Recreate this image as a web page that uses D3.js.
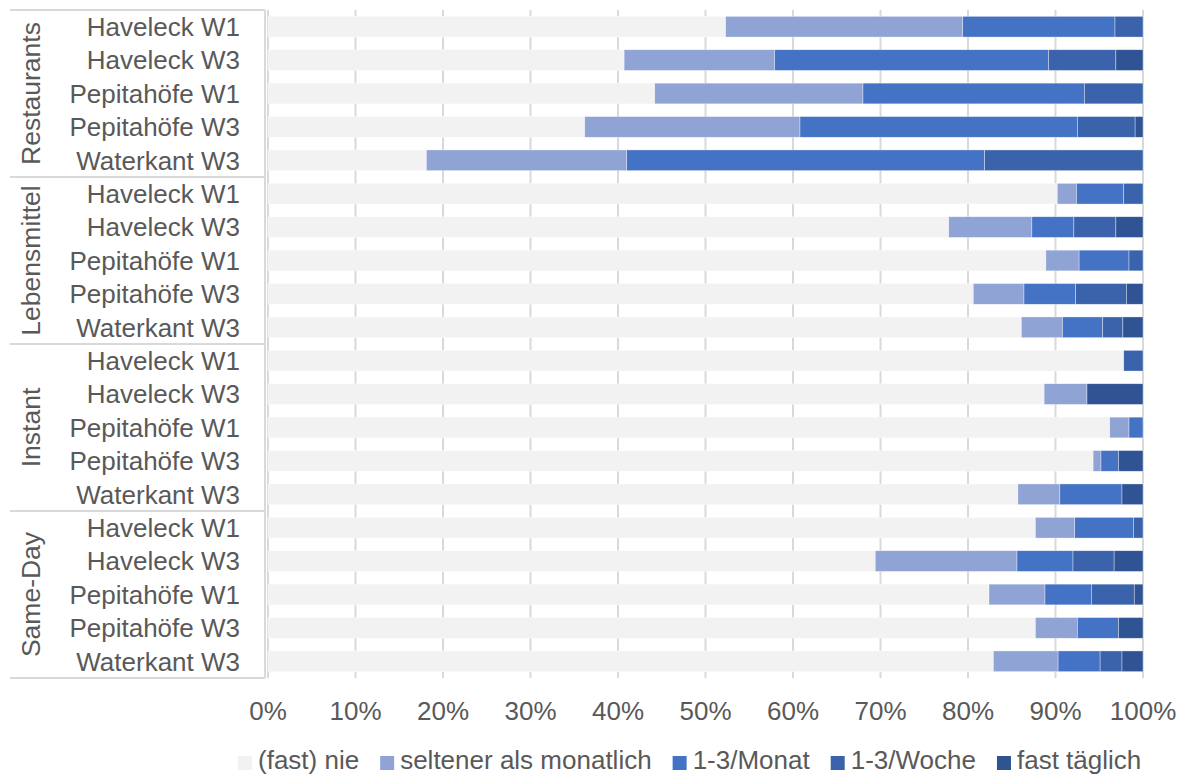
<!DOCTYPE html>
<html>
<head>
<meta charset="utf-8">
<script src="https://cdn.jsdelivr.net/npm/d3@7"></script>
<style>
  body { margin: 0; background: #fff; }
  text { font-family: "Liberation Sans", Arial, sans-serif; fill: #595959; }
</style>
</head>
<body>
<svg id="chart" width="1184" height="776"></svg>
<script>
// data (percent)
var categories = ["Haveleck W1", "Haveleck W3", "Pepitahöfe W1", "Pepitahöfe W3", "Waterkant W3"];
var groups = ["Restaurants", "Lebensmittel", "Instant", "Same-Day"];
var seriesNames = ["(fast) nie", "seltener als monatlich", "1-3/Monat", "1-3/Woche", "fast täglich"];
var colors = ["#f2f2f2", "#8fa3d4", "#4472c4", "#3a63ab", "#305393"];

var nie       = [52.3, 40.7, 44.2, 36.2, 18.1,  90.2, 77.8, 88.9, 80.6, 86.1,  97.8, 88.7, 96.2, 94.3, 85.7,  87.7, 69.4, 82.4, 87.7, 82.9];
var seltener  = [27.1, 17.2, 23.8, 24.6, 22.9,   2.2,  9.5,  3.8,  5.8,  4.7,   0.0,  4.9,  2.2,  0.9,  4.8,   4.5, 16.2,  6.4,  4.8,  7.4];
var monat     = [17.4, 31.3, 25.3, 31.7, 40.9,   5.4,  4.8,  5.7,  5.9,  4.6,   0.0,  0.0,  1.6,  2.0,  7.1,   6.7,  6.4,  5.3,  4.7,  4.8];
var woche     = [ 3.2,  7.7,  6.7,  6.6, 18.1,   2.2,  4.8,  1.6,  5.8,  2.3,   2.2,  0.0,  0.0,  0.0,  0.0,   1.1,  4.7,  4.9,  0.0,  2.5];
var taeglich  = [ 0.0,  3.1,  0.0,  0.9,  0.0,   0.0,  3.1,  0.0,  1.9,  2.3,   0.0,  6.4,  0.0,  2.8,  2.4,   0.0,  3.3,  1.0,  2.8,  2.4];
var tickLabels = ["0%", "10%", "20%", "30%", "40%", "50%", "60%", "70%", "80%", "90%", "100%"];

var rows = [];
groups.forEach(function(g, gi) {
  categories.forEach(function(c, ci) {
    var i = gi * categories.length + ci;
    rows.push({id: i, group: g, label: c,
      nie: nie[i], seltener: seltener[i], monat: monat[i], woche: woche[i], taeglich: taeglich[i]});
  });
});
var keys = ["nie", "seltener", "monat", "woche", "taeglich"];

var svg = d3.select("#chart");
var plotLeft = 268, plotRight = 1143, plotTop = 10, plotBottom = 678;

var x = d3.scaleLinear().domain([0, 100]).range([plotLeft, plotRight]);
var y = d3.scaleBand().domain(rows.map(function(d) { return d.id; }))
  .range([plotTop, plotBottom]).paddingInner(0.38).paddingOuter(0.19);

// gridlines
svg.append("g").selectAll("line")
  .data(d3.range(0, 101, 10))
  .enter().append("line")
    .attr("x1", function(d) { return x(d); })
    .attr("x2", function(d) { return x(d); })
    .attr("y1", plotTop).attr("y2", plotBottom)
    .style("stroke", "#d9d9d9").style("stroke-width", 2);

// stacked bars
var stack = d3.stack().keys(keys);
var layers = stack(rows);
svg.append("g").selectAll("g")
  .data(layers)
  .enter().append("g")
    .style("fill", function(d, i) { return colors[i]; })
  .selectAll("rect")
  .data(function(d) { return d; })
  .enter().append("rect")
    .attr("x", function(d) { return x(d[0]); })
    .attr("width", function(d) { return Math.max(0, x(d[1]) - x(d[0])); })
    .attr("y", function(d) { return y(d.data.id); })
    .attr("height", y.bandwidth())
    .style("stroke", "#fff").style("stroke-width", 0.6).style("stroke-opacity", 0.6);

// left axis frame
var frame = svg.append("g").style("stroke", "#d9d9d9").style("stroke-width", 2);
frame.append("line").attr("x1", 265).attr("x2", 265).attr("y1", plotTop).attr("y2", plotBottom);
var groupEdges = d3.range(0, groups.length + 1).map(function(k) {
  return plotTop + k * categories.length * y.step();
});
frame.selectAll("line.sep").data(groupEdges).enter().append("line")
  .attr("class", "sep")
  .attr("x1", 10).attr("x2", 265)
  .attr("y1", function(d) { return d; }).attr("y2", function(d) { return d; });

// category labels
svg.append("g").selectAll("text")
  .data(rows)
  .enter().append("text")
    .attr("x", 240)
    .attr("y", function(d) { return y(d.id) + y.bandwidth() / 2; })
    .attr("dy", "0.36em")
    .attr("text-anchor", "end")
    .style("font-size", "26px")
    .text(function(d) { return d.label; });

// group labels
svg.append("g").selectAll("text")
  .data(groups)
  .enter().append("text")
    .attr("transform", function(d, i) {
      var cy = (groupEdges[i] + groupEdges[i + 1]) / 2;
      return "translate(30," + cy + ") rotate(-90)";
    })
    .attr("dy", "0.36em")
    .attr("text-anchor", "middle")
    .style("font-size", "26.5px")
    .text(function(d) { return d; });

// x tick labels
svg.append("g").selectAll("text")
  .data(tickLabels)
  .enter().append("text")
    .attr("x", function(d, i) { return x(i * 10); })
    .attr("y", 720)
    .attr("text-anchor", "middle")
    .style("font-size", "26px")
    .text(function(d) { return d; });

// legend
var legend = svg.append("g");
var lx = 238;
seriesNames.forEach(function(name, i) {
  var item = legend.append("g").attr("transform", "translate(" + lx + ",0)");
  item.append("rect").attr("x", 0).attr("y", 756).attr("width", 14).attr("height", 14)
    .style("fill", colors[i]);
  var t = item.append("text").attr("x", 20).attr("y", 769)
    .style("font-size", "26px").text(name);
  lx += 20 + t.node().getComputedTextLength() + 21;
});
</script>
</body>
</html>
